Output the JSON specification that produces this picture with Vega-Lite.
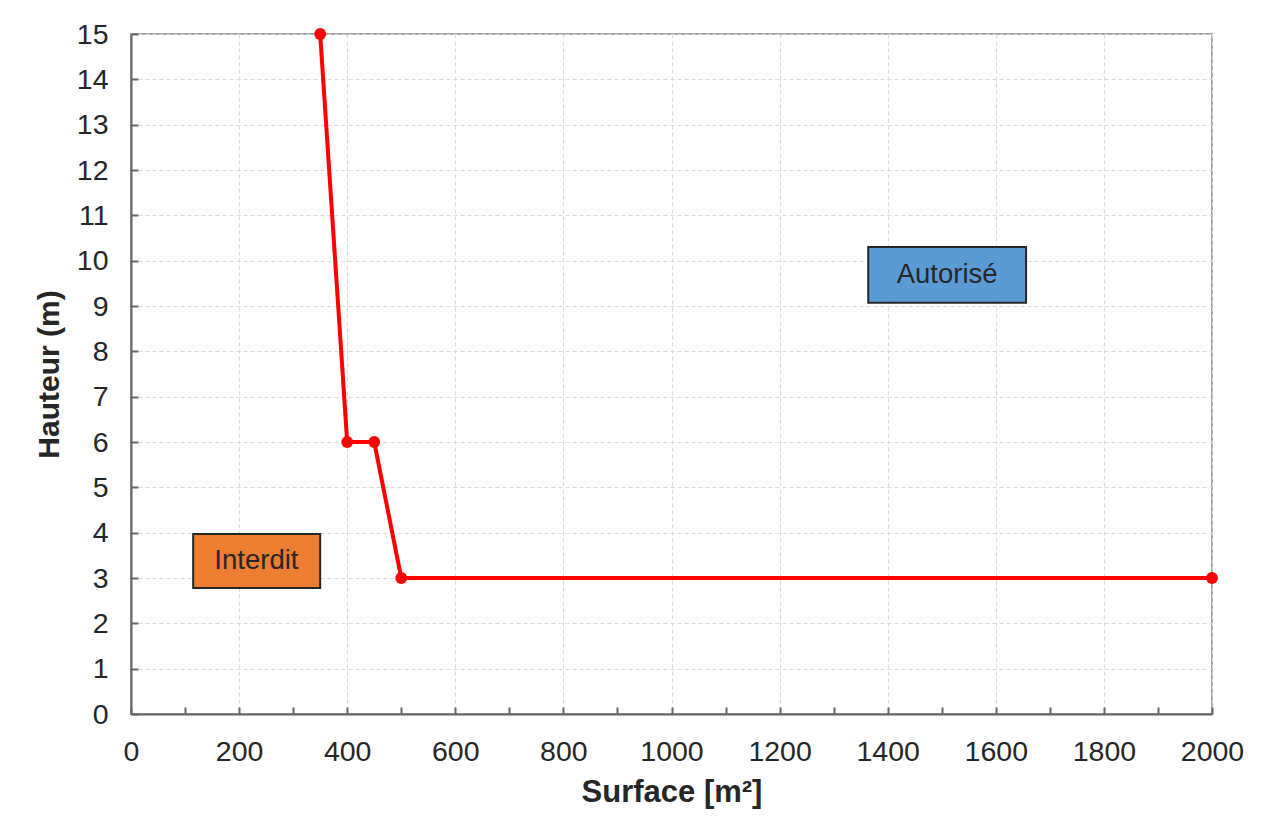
{
  "$schema": "https://vega.github.io/schema/vega-lite/v6.json",
  "width": 1081,
  "height": 680,
  "autosize": {"type": "none"},
  "padding": {"left": 131, "top": 34, "right": 52, "bottom": 109},
  "background": "white",
  "config": {
    "font": "Liberation Sans",
    "view": {"stroke": "#a6a6a6", "strokeWidth": 2}
  },
  "datasets": {
    "limite": [
      {"surface": 350, "hauteur": 15},
      {"surface": 400, "hauteur": 6},
      {"surface": 450, "hauteur": 6},
      {"surface": 500, "hauteur": 3},
      {"surface": 2000, "hauteur": 3}
    ],
    "zones": [
      {"zone": "Interdit", "s1": 115, "s2": 350, "h1": 2.78, "h2": 3.97, "sc": 232, "hc": 3.37},
      {"zone": "Autorisé", "s1": 1364, "s2": 1656, "h1": 9.07, "h2": 10.3, "sc": 1510, "hc": 9.68}
    ]
  },
  "layer": [
    {
      "data": {"name": "limite"},
      "mark": {"type": "line", "color": "#ff0000", "strokeWidth": 4},
      "encoding": {
        "x": {
          "field": "surface", "type": "quantitative",
          "scale": {"domain": [0, 2000], "nice": false, "zero": false},
          "axis": {
            "title": "Surface [m²]",
            "values": [0,50,100,150,200,250,300,350,400,450,500,550,600,650,700,750,800,850,900,950,1000,1050,1100,1150,1200,1250,1300,1350,1400,1450,1500,1550,1600,1650,1700,1750,1800,1850,1900,1950,2000],
            "labelExpr": "datum.value % 200 === 0 ? datum.label : ''",
            "format": "d",
            "labelFontSize": 28.5,
            "labelColor": "#262626",
            "labelPadding": 30,
            "labelFlush": false,
            "labelOverlap": false,
            "titleFontSize": 31,
            "titleFontWeight": "bold",
            "titleColor": "#262626",
            "titlePadding": 12,
            "domainColor": "#666666",
            "domainWidth": 2,
            "tickColor": "#666666",
            "tickWidth": 2,
            "tickSize": -7,
            "grid": true,
            "gridColor": "#d9d9d9",
            "gridDash": [4, 3],
            "gridWidth": 1,
            "gridOpacity": {"condition": {"test": "datum.value % 200 === 0", "value": 1}, "value": 0}
          }
        },
        "y": {
          "field": "hauteur", "type": "quantitative",
          "scale": {"domain": [0, 15], "nice": false, "zero": false},
          "axis": {
            "title": "Hauteur (m)",
            "values": [0,0.5,1,1.5,2,2.5,3,3.5,4,4.5,5,5.5,6,6.5,7,7.5,8,8.5,9,9.5,10,10.5,11,11.5,12,12.5,13,13.5,14,14.5,15],
            "labelExpr": "datum.value % 1 === 0 ? datum.label : ''",
            "format": "d",
            "labelFontSize": 28.5,
            "labelColor": "#262626",
            "labelPadding": 30,
            "labelFlush": false,
            "labelOverlap": false,
            "titleFontSize": 30,
            "titleFontWeight": "bold",
            "titleColor": "#262626",
            "titlePadding": 12,
            "domainColor": "#666666",
            "domainWidth": 2,
            "tickColor": "#666666",
            "tickWidth": 2,
            "tickSize": -7,
            "grid": true,
            "gridColor": "#d9d9d9",
            "gridDash": [4, 3],
            "gridWidth": 1,
            "gridOpacity": {"condition": {"test": "datum.value % 1 === 0", "value": 1}, "value": 0}
          }
        }
      }
    },
    {
      "data": {"name": "limite"},
      "mark": {"type": "point", "filled": true, "color": "#ff0000", "size": 140, "opacity": 1},
      "encoding": {
        "x": {"field": "surface", "type": "quantitative", "axis": {"title": "Surface [m²]"}},
        "y": {"field": "hauteur", "type": "quantitative", "axis": {"title": "Hauteur (m)"}}
      }
    },
    {
      "data": {"name": "zones"},
      "mark": {"type": "rect", "stroke": "#262626", "strokeWidth": 2},
      "encoding": {
        "x": {"field": "s1", "type": "quantitative", "axis": {"title": "Surface [m²]"}},
        "x2": {"field": "s2"},
        "y": {"field": "h1", "type": "quantitative", "axis": {"title": "Hauteur (m)"}},
        "y2": {"field": "h2"},
        "fill": {
          "field": "zone", "type": "nominal",
          "scale": {"domain": ["Interdit", "Autorisé"], "range": ["#ed7d31", "#5b9bd5"]},
          "legend": null
        }
      }
    },
    {
      "data": {"name": "zones"},
      "mark": {"type": "text", "fontSize": 27.5, "color": "#262626", "align": "center", "baseline": "middle"},
      "encoding": {
        "x": {"field": "sc", "type": "quantitative", "axis": {"title": "Surface [m²]"}},
        "y": {"field": "hc", "type": "quantitative", "axis": {"title": "Hauteur (m)"}},
        "text": {"field": "zone", "type": "nominal"}
      }
    }
  ]
}
